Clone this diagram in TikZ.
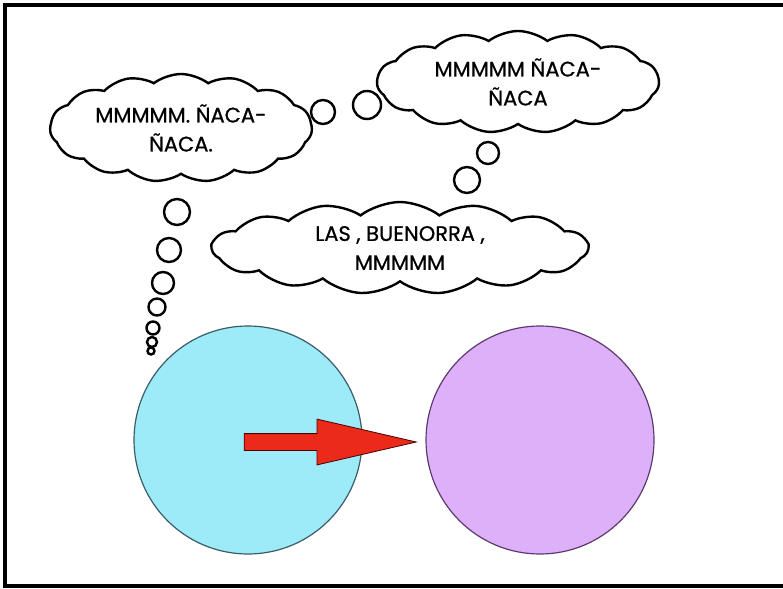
\documentclass[tikz,border=0pt]{standalone}
\usepackage{fontspec}
\setmainfont{Poppins}
\newfontfamily\comicfont{Poppins}[FakeBold=0.8]
\usetikzlibrary{shapes.symbols,shapes.arrows}
\definecolor{cyanfill}{HTML}{9DEBF8}
\definecolor{cyanline}{HTML}{3A5C64}
\definecolor{lilafill}{HTML}{DDB0F9}
\definecolor{lilaline}{HTML}{5A3C6C}
\definecolor{redfill}{HTML}{EC2A1A}
\tikzset{
            thought/.style={cloud, cloud puffs=15, cloud puff arc=75, cloud ignores aspect,
                draw, line width=2.4pt, fill=white, inner sep=0pt, align=center,
                font=\comicfont\fontsize{21}{29}\selectfont},
            bubble/.style={circle, draw, line width=2.4pt, fill=white, inner sep=0pt},
            ball/.style={circle, line width=1.2pt, inner sep=0pt, minimum size=228pt}
        }

\begin{document}
\begin{tikzpicture}[x=1pt, y=-1pt]
                \useasboundingbox (0,0) rectangle (783,588);
                % frame
                \draw[line width=3.5pt] (800,5) -- (5,5) -- (5,586) -- (800,586);
                % thoughts
                \node[thought, minimum width=262pt, minimum height=108pt] (left) at (181,128)
                    {MMMMM. ÑACA-\\ÑACA.};
                \node[thought, minimum width=282pt, minimum height=102pt] (top) at (518,82)
                    {MMMMM ÑACA-\\ÑACA};
                \node[thought, minimum width=376pt, minimum height=92pt] (low) at (400,248)
                    {LAS , BUENORRA ,\\MMMMM};
                % bubbles
                \foreach \n/\x/\y/\r in {a/323/112/24, b/367/105/28, c/488/153/22, d/467/180/26,
                        e/177/212/26, f/169/250/24, g/163/283/22, h/157/307/17,
                        i/153/328/13, j/152/342/10, k/151/351/7}
                    \node[bubble, minimum size=\r pt] (bub\n) at (\x,\y) {};
                % balls
                \node[ball, draw=cyanline, fill=cyanfill] (blue) at (248,440) {};
                \node[ball, draw=lilaline, fill=lilafill] (lila) at (540,440) {};
                \node[single arrow, draw=black!70!red, fill=redfill, line width=0.8pt,
                    minimum height=172pt, single arrow head extend=14.5pt,
                    single arrow tip angle=26, single arrow head indent=0pt, inner sep=0pt]
                    (push) at (312,442) {\rule{0pt}{16pt}};
            \end{tikzpicture}
\end{document}
